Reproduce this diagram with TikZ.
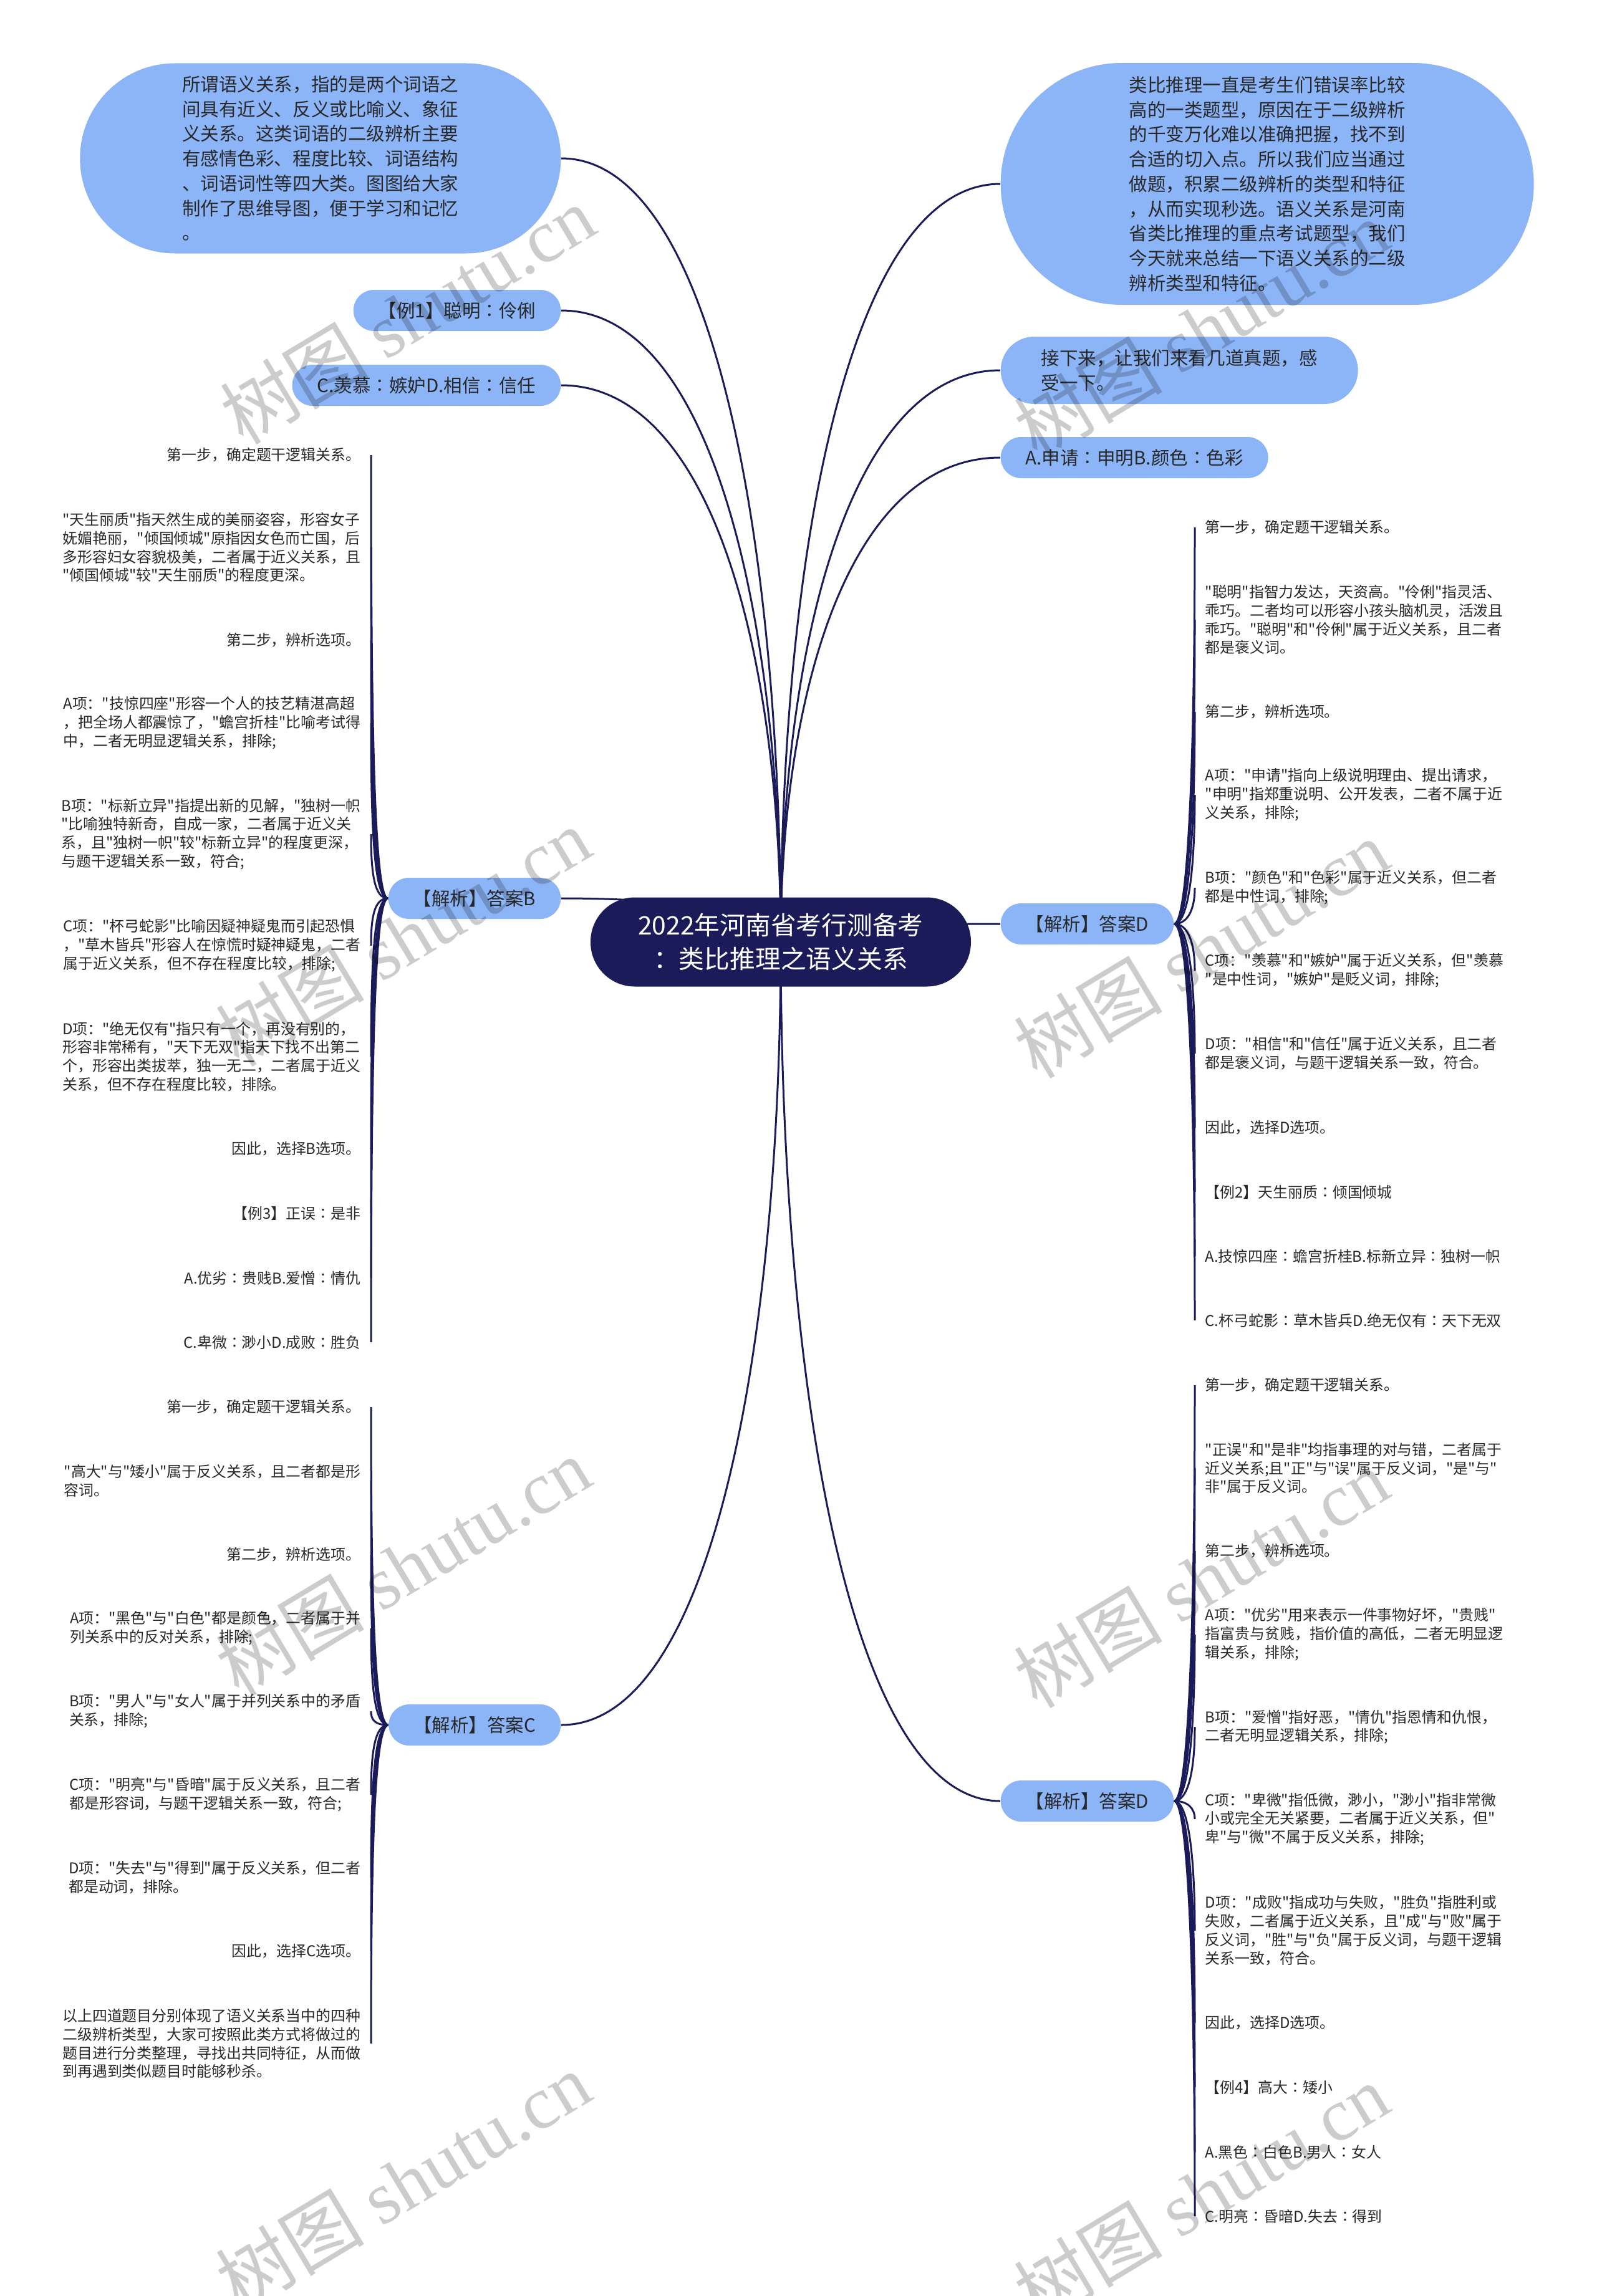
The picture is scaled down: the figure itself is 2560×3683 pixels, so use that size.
\documentclass[tikz,border=0pt]{standalone}
\usepackage{fontspec}
\setmainfont{Noto Sans CJK SC}
\newfontfamily\cjk{Noto Sans CJK SC}
\newfontfamily\wmfont{Liberation Serif}
\usetikzlibrary{calc, backgrounds}
\definecolor{pillblue}{RGB}{140,181,248}
\definecolor{hubnavy}{RGB}{27,27,90}
\definecolor{inkgray}{RGB}{40,40,40}
\newcommand\leaffont{\cjk\fontsize{6.8pt}{8.5pt}\selectfont}
\newcommand\pillfont{\cjk\fontsize{8.4pt}{11.3pt}\selectfont}
\newcommand\hubfont{\cjk\fontsize{11.6pt}{15.3pt}\selectfont}
\newcommand\wmsize{\cjk\fontsize{34pt}{34pt}\selectfont}

\begin{document}
\begin{tikzpicture}[
    x=0.1mm, y=-0.1mm,
    pill/.style={rectangle, rounded corners=3.3mm, fill=pillblue, text=inkgray,
                 font=\pillfont, minimum height=6.6mm, inner xsep=4mm},
    bubble/.style={rectangle, fill=pillblue, text=inkgray, font=\pillfont, align=left},
    leaf/.style={align=left, font=\leaffont, text=inkgray, inner xsep=1.6mm, inner ysep=0.5mm},
    leafL/.style={leaf, anchor=east},
    leafR/.style={leaf, anchor=west},
    hub/.style={rectangle, rounded corners=7.1mm, fill=hubnavy, text=white, font=\hubfont,
                align=center, minimum width=61mm, minimum height=14.3mm},
    link/.style={draw=hubnavy, line width=0.3mm},
    hubcurve/.style={to path={.. controls ($(\tikztostart)!0.5!(\tikztostart|-\tikztotarget)$)
                     and ($(\tikztotarget)!0.7!(\tikztostart|-\tikztotarget)$) .. (\tikztotarget)}},
    leafcurve/.style={to path={.. controls ($(\tikztostart)+(#1,0)$)
                      and ($(\tikztotarget)!0.6!(\tikztotarget|-\tikztostart)$) .. (\tikztotarget)}},
    wmark/.style={text=black, opacity=0.2, rotate=31, font=\wmsize}
]
\useasboundingbox (0,0) rectangle (2560,3683);

% centre
\node[hub] (hub) at (1252,1511) {2022年河南省考行测备考\\：类比推理之语义关系};

% first level, left
\node[bubble, anchor=east, minimum width=77.1mm, minimum height=30.5mm, rounded corners=15.2mm] (intro) at (900,254) {所谓语义关系，指的是两个词语之\\间具有近义、反义或比喻义、象征\\义关系。这类词语的二级辨析主要\\有感情色彩、程度比较、词语结构\\、词语词性等四大类。图图给大家\\制作了思维导图，便于学习和记忆\\。};
\node[pill, anchor=east] (ex1) at (900,498) {【例1】聪明∶伶俐};
\node[pill, anchor=east] (optsCD) at (900,618) {C.羡慕∶嫉妒D.相信∶信任};
\node[pill, anchor=east] (ansB) at (900,1441) {【解析】答案B};
\node[pill, anchor=east] (ansC) at (900,2767) {【解析】答案C};

% first level, right
\node[bubble, anchor=west, minimum width=85.5mm, minimum height=38.8mm, rounded corners=19.4mm] (lead) at (1604,295) {类比推理一直是考生们错误率比较\\高的一类题型，原因在于二级辨析\\的千变万化难以准确把握，找不到\\合适的切入点。所以我们应当通过\\做题，积累二级辨析的类型和特征\\，从而实现秒选。语义关系是河南\\省类比推理的重点考试题型，我们\\今天就来总结一下语义关系的二级\\辨析类型和特征。};
\node[pill, anchor=west, align=left, minimum width=57.3mm, minimum height=10.8mm, rounded corners=5.4mm, inner xsep=5.2mm] (next) at (1604,594) {接下来，让我们来看几道真题，感\\受一下。};
\node[pill, anchor=west] (optsAB) at (1604,734) {A.申请∶申明B.颜色∶色彩};
\node[pill, anchor=west] (ansD1) at (1604,1482) {【解析】答案D};
\node[pill, anchor=west] (ansD2) at (1604,2889) {【解析】答案D};

% answer B
\node[leafL] (b1) at (595,730) {第一步，确定题干逻辑关系。};
\node[leafL] (b2) at (595,878) {"天生丽质"指天然生成的美丽姿容，形容女子\\妩媚艳丽，"倾国倾城"原指因女色而亡国，后\\多形容妇女容貌极美，二者属于近义关系，且\\"倾国倾城"较"天生丽质"的程度更深。};
\node[leafL] (b3) at (595,1027) {第二步，辨析选项。};
\node[leafL] (b4) at (595,1160) {A项："技惊四座"形容一个人的技艺精湛高超\\，把全场人都震惊了，"蟾宫折桂"比喻考试得\\中，二者无明显逻辑关系，排除;};
\node[leafL] (b5) at (595,1338) {B项："标新立异"指提出新的见解，"独树一帜\\"比喻独特新奇，自成一家，二者属于近义关\\系，且"独树一帜"较"标新立异"的程度更深，\\与题干逻辑关系一致，符合;};
\node[leafL] (b6) at (595,1517) {C项："杯弓蛇影"比喻因疑神疑鬼而引起恐惧\\，"草木皆兵"形容人在惊慌时疑神疑鬼，二者\\属于近义关系，但不存在程度比较，排除;};
\node[leafL] (b7) at (595,1695) {D项："绝无仅有"指只有一个，再没有别的，\\形容非常稀有，"天下无双"指天下找不出第二\\个，形容出类拔萃，独一无二，二者属于近义\\关系，但不存在程度比较，排除。};
\node[leafL] (b8) at (595,1843) {因此，选择B选项。};
\node[leafL] (b9) at (595,1946) {【例3】正误∶是非};
\node[leafL] (b10) at (595,2050) {A.优劣∶贵贱B.爱憎∶情仇};
\node[leafL] (b11) at (595,2153) {C.卑微∶渺小D.成败∶胜负};

% answer D, first
\node[leafR] (d1) at (1916,846) {第一步，确定题干逻辑关系。};
\node[leafR] (d2) at (1916,994) {"聪明"指智力发达，天资高。"伶俐"指灵活、\\乖巧。二者均可以形容小孩头脑机灵，活泼且\\乖巧。"聪明"和"伶俐"属于近义关系，且二者\\都是褒义词。};
\node[leafR] (d3) at (1916,1142) {第二步，辨析选项。};
\node[leafR] (d4) at (1916,1275) {A项："申请"指向上级说明理由、提出请求，\\"申明"指郑重说明、公开发表，二者不属于近\\义关系，排除;};
\node[leafR] (d5) at (1916,1424) {B项："颜色"和"色彩"属于近义关系，但二者\\都是中性词，排除;};
\node[leafR] (d6) at (1916,1557) {C项："羡慕"和"嫉妒"属于近义关系，但"羡慕\\"是中性词，"嫉妒"是贬义词，排除;};
\node[leafR] (d7) at (1916,1690) {D项："相信"和"信任"属于近义关系，且二者\\都是褒义词，与题干逻辑关系一致，符合。};
\node[leafR] (d8) at (1916,1809) {因此，选择D选项。};
\node[leafR] (d9) at (1916,1912) {【例2】天生丽质∶倾国倾城};
\node[leafR] (d10) at (1916,2015) {A.技惊四座∶蟾宫折桂B.标新立异∶独树一帜};
\node[leafR] (d11) at (1916,2118) {C.杯弓蛇影∶草木皆兵D.绝无仅有∶天下无双};

% answer C
\node[leafL] (c1) at (595,2257) {第一步，确定题干逻辑关系。};
\node[leafL] (c2) at (595,2375) {"高大"与"矮小"属于反义关系，且二者都是形\\容词。};
\node[leafL] (c3) at (595,2494) {第二步，辨析选项。};
\node[leafL] (c4) at (595,2612) {A项："黑色"与"白色"都是颜色，二者属于并\\列关系中的反对关系，排除;};
\node[leafL] (c5) at (595,2745) {B项："男人"与"女人"属于并列关系中的矛盾\\关系，排除;};
\node[leafL] (c6) at (595,2879) {C项："明亮"与"昏暗"属于反义关系，且二者\\都是形容词，与题干逻辑关系一致，符合;};
\node[leafL] (c7) at (595,3012) {D项："失去"与"得到"属于反义关系，但二者\\都是动词，排除。};
\node[leafL] (c8) at (595,3130) {因此，选择C选项。};
\node[leafL] (c9) at (595,3278) {以上四道题目分别体现了语义关系当中的四种\\二级辨析类型，大家可按照此类方式将做过的\\题目进行分类整理，寻找出共同特征，从而做\\到再遇到类似题目时能够秒杀。};

% answer D, second
\node[leafR] (e1) at (1916,2222) {第一步，确定题干逻辑关系。};
\node[leafR] (e2) at (1916,2355) {"正误"和"是非"均指事理的对与错，二者属于\\近义关系;且"正"与"误"属于反义词，"是"与"\\非"属于反义词。};
\node[leafR] (e3) at (1916,2488) {第二步，辨析选项。};
\node[leafR] (e4) at (1916,2622) {A项："优劣"用来表示一件事物好坏，"贵贱"\\指富贵与贫贱，指价值的高低，二者无明显逻\\辑关系，排除;};
\node[leafR] (e5) at (1916,2770) {B项："爱憎"指好恶，"情仇"指恩情和仇恨，\\二者无明显逻辑关系，排除;};
\node[leafR] (e6) at (1916,2918) {C项："卑微"指低微，渺小，"渺小"指非常微\\小或完全无关紧要，二者属于近义关系，但"\\卑"与"微"不属于反义关系，排除;};
\node[leafR] (e7) at (1916,3097) {D项："成败"指成功与失败，"胜负"指胜利或\\失败，二者属于近义关系，且"成"与"败"属于\\反义词，"胜"与"负"属于反义词，与题干逻辑\\关系一致，符合。};
\node[leafR] (e8) at (1916,3245) {因此，选择D选项。};
\node[leafR] (e9) at (1916,3348) {【例4】高大∶矮小};
\node[leafR] (e10) at (1916,3452) {A.黑色∶白色B.男人∶女人};
\node[leafR] (e11) at (1916,3555) {C.明亮∶昏暗D.失去∶得到};

% connectors
\begin{scope}[on background layer]
\draw[link] (hub.center) to[hubcurve] (intro.east);
\draw[link] (hub.center) to[hubcurve] (ex1.east);
\draw[link] (hub.center) to[hubcurve] (optsCD.east);
\draw[link] (hub.center) to[hubcurve] (ansB.east);
\draw[link] (hub.center) to[hubcurve] (ansC.east);
\draw[link] (hub.center) to[hubcurve] (lead.west);
\draw[link] (hub.center) to[hubcurve] (next.west);
\draw[link] (hub.center) to[hubcurve] (optsAB.west);
\draw[link] (hub.center) to[hubcurve] (ansD1.west);
\draw[link] (hub.center) to[hubcurve] (ansD2.west);

\draw[link] (ansB.west) to[leafcurve=-22] (b1.east);
\draw[link] (ansB.west) to[leafcurve=-22] (b2.east);
\draw[link] (ansB.west) to[leafcurve=-22] (b3.east);
\draw[link] (ansB.west) to[leafcurve=-22] (b4.east);
\draw[link] (ansB.west) to[leafcurve=-22] (b5.east);
\draw[link] (ansB.west) to[leafcurve=-22] (b6.east);
\draw[link] (ansB.west) to[leafcurve=-22] (b7.east);
\draw[link] (ansB.west) to[leafcurve=-22] (b8.east);
\draw[link] (ansB.west) to[leafcurve=-22] (b9.east);
\draw[link] (ansB.west) to[leafcurve=-22] (b10.east);
\draw[link] (ansB.west) to[leafcurve=-22] (b11.east);

\draw[link] (ansD1.east) to[leafcurve=22] (d1.west);
\draw[link] (ansD1.east) to[leafcurve=22] (d2.west);
\draw[link] (ansD1.east) to[leafcurve=22] (d3.west);
\draw[link] (ansD1.east) to[leafcurve=22] (d4.west);
\draw[link] (ansD1.east) to[leafcurve=22] (d5.west);
\draw[link] (ansD1.east) to[leafcurve=22] (d6.west);
\draw[link] (ansD1.east) to[leafcurve=22] (d7.west);
\draw[link] (ansD1.east) to[leafcurve=22] (d8.west);
\draw[link] (ansD1.east) to[leafcurve=22] (d9.west);
\draw[link] (ansD1.east) to[leafcurve=22] (d10.west);
\draw[link] (ansD1.east) to[leafcurve=22] (d11.west);

\draw[link] (ansC.west) to[leafcurve=-22] (c1.east);
\draw[link] (ansC.west) to[leafcurve=-22] (c2.east);
\draw[link] (ansC.west) to[leafcurve=-22] (c3.east);
\draw[link] (ansC.west) to[leafcurve=-22] (c4.east);
\draw[link] (ansC.west) to[leafcurve=-22] (c5.east);
\draw[link] (ansC.west) to[leafcurve=-22] (c6.east);
\draw[link] (ansC.west) to[leafcurve=-22] (c7.east);
\draw[link] (ansC.west) to[leafcurve=-22] (c8.east);
\draw[link] (ansC.west) to[leafcurve=-22] (c9.east);

\draw[link] (ansD2.east) to[leafcurve=22] (e1.west);
\draw[link] (ansD2.east) to[leafcurve=22] (e2.west);
\draw[link] (ansD2.east) to[leafcurve=22] (e3.west);
\draw[link] (ansD2.east) to[leafcurve=22] (e4.west);
\draw[link] (ansD2.east) to[leafcurve=22] (e5.west);
\draw[link] (ansD2.east) to[leafcurve=22] (e6.west);
\draw[link] (ansD2.east) to[leafcurve=22] (e7.west);
\draw[link] (ansD2.east) to[leafcurve=22] (e8.west);
\draw[link] (ansD2.east) to[leafcurve=22] (e9.west);
\draw[link] (ansD2.east) to[leafcurve=22] (e10.west);
\draw[link] (ansD2.east) to[leafcurve=22] (e11.west);
\end{scope}

% watermarks
\node[wmark] (wm1) at (653,505) {树图 {\wmfont shutu.cn}};
\node[wmark] (wm2) at (1926,528) {树图 {\wmfont shutu.cn}};
\node[wmark] (wm3) at (646,1503) {树图 {\wmfont shutu.cn}};
\node[wmark] (wm4) at (1926,1522) {树图 {\wmfont shutu.cn}};
\node[wmark] (wm5) at (646,2513) {树图 {\wmfont shutu.cn}};
\node[wmark] (wm6) at (1926,2532) {树图 {\wmfont shutu.cn}};
\node[wmark] (wm7) at (646,3499) {树图 {\wmfont shutu.cn}};
\node[wmark] (wm8) at (1926,3518) {树图 {\wmfont shutu.cn}};
\end{tikzpicture}
\end{document}
